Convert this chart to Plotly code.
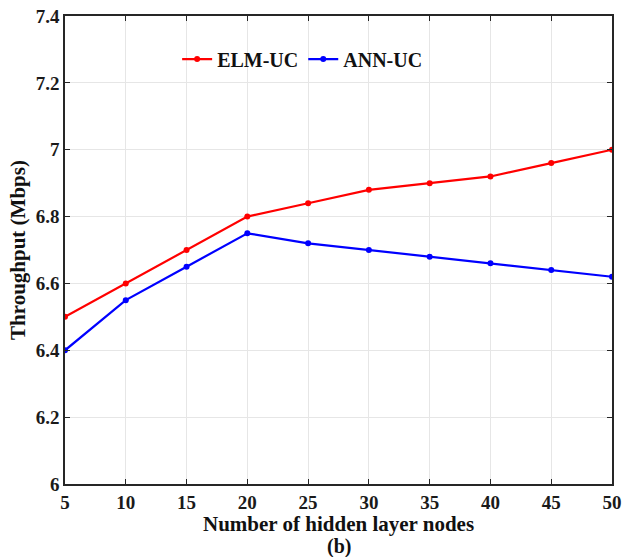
import plotly.graph_objects as go

# Hidden-layer node counts and measured throughput (Mbps)
nodes = [5, 10, 15, 20, 25, 30, 35, 40, 45, 50]
elm_uc = [6.50, 6.60, 6.70, 6.80, 6.84, 6.88, 6.90, 6.92, 6.96, 7.00]
ann_uc = [6.40, 6.55, 6.65, 6.75, 6.72, 6.70, 6.68, 6.66, 6.64, 6.62]

x_ticks = [5, 10, 15, 20, 25, 30, 35, 40, 45, 50]
y_ticks = [6, 6.2, 6.4, 6.6, 6.8, 7, 7.2, 7.4]
y_tick_text = ["6", "6.2", "6.4", "6.6", "6.8", "7", "7.2", "7.4"]

FONT = "Liberation Serif"

fig = go.Figure()
fig.add_trace(go.Scatter(
    x=nodes, y=elm_uc, name="<b>ELM-UC</b>", mode="lines+markers",
    line=dict(color="#ff0000", width=2.2),
    marker=dict(color="#ff0000", size=6),
))
fig.add_trace(go.Scatter(
    x=nodes, y=ann_uc, name="<b>ANN-UC</b>", mode="lines+markers",
    line=dict(color="#0000ff", width=2.2),
    marker=dict(color="#0000ff", size=6),
))

axis_common = dict(
    showline=True, linecolor="#262626", linewidth=1.5, mirror="ticks",
    ticks="inside", ticklen=5, tickcolor="#262626", tickwidth=1,
    showgrid=True, gridcolor="#e6e6e6", gridwidth=1, zeroline=False,
    automargin=False,
    tickfont=dict(family=FONT, size=19, color="#1a1a1a"),
)

fig.update_xaxes(range=[5, 50], tickvals=x_ticks,
                 ticktext=[f"<b>{v}</b>" for v in x_ticks], **axis_common)
fig.update_yaxes(range=[6, 7.4], tickvals=y_ticks,
                 ticktext=[f"<b>{t}</b>" for t in y_tick_text], **axis_common)

fig.update_layout(
    width=623, height=557,
    margin=dict(l=65, r=11, t=16, b=73),
    paper_bgcolor="white", plot_bgcolor="white",
    font=dict(family=FONT, color="#111111"),
    showlegend=True,
    legend=dict(
        orientation="h", x=0.205, y=0.908, xanchor="left", yanchor="middle",
        bgcolor="rgba(0,0,0,0)", borderwidth=0,
        font=dict(family=FONT, size=20, color="#111111"),
        itemwidth=30, tracegroupgap=0,
    ),
    annotations=[
        dict(text="<b>Number of hidden layer nodes</b>", x=0.5, y=0,
             xref="paper", yref="paper", xanchor="center", yanchor="middle",
             yshift=-40, showarrow=False,
             font=dict(family=FONT, size=21, color="#111111")),
        dict(text="<b>(b)</b>", x=0.5, y=0,
             xref="paper", yref="paper", xanchor="center", yanchor="middle",
             yshift=-62, showarrow=False,
             font=dict(family=FONT, size=20, color="#111111")),
        dict(text="<b>Throughput (Mbps)</b>", x=0, y=0.5,
             xref="paper", yref="paper", xanchor="center", yanchor="middle",
             xshift=-47, textangle=-90, showarrow=False,
             font=dict(family=FONT, size=21, color="#111111")),
    ],
)

fig.write_html("out.html")
